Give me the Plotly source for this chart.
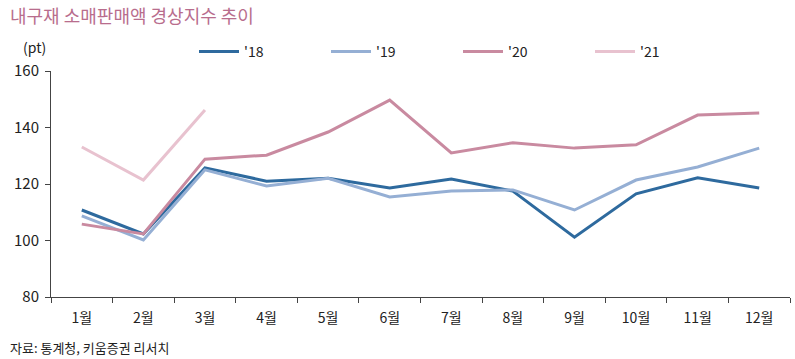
import plotly.graph_objects as go

months = ["1월", "2월", "3월", "4월", "5월", "6월", "7월", "8월", "9월", "10월", "11월", "12월"]
s18 = [110.8, 102.3, 125.7, 121.0, 122.0, 118.6, 121.8, 117.5, 101.2, 116.5, 122.2, 118.6]
s19 = [108.7, 100.2, 125.0, 119.3, 122.0, 115.4, 117.5, 117.9, 110.8, 121.4, 126.0, 132.7]
s20 = [105.8, 102.3, 128.8, 130.2, 138.4, 149.7, 131.0, 134.6, 132.7, 133.9, 144.4, 145.1]
s21 = [133.1, 121.4, 146.2]
names = ["'18", "'19", "'20", "'21"]
colors = ["#2e6a9e", "#95afd4", "#c98aa0", "#e8c2cf"]

FONT = "Noto Sans CJK KR"
fig = go.Figure()
for name, vals, col in zip(names, [s18, s19, s20, s21], colors):
    fig.add_trace(go.Scatter(x=months[:len(vals)], y=vals, mode="lines", name=name,
                             line=dict(color=col, width=3)))

fig.update_layout(
    width=795, height=359,
    margin=dict(l=51, r=5, t=71, b=62, autoexpand=False),
    plot_bgcolor="white", paper_bgcolor="white",
    font=dict(family=FONT, size=13, color="#222"),
    showlegend=True,
    legend=dict(orientation="h", x=(194 - 51) / 739, xref="paper", y=1 + 19 / 226, yanchor="middle",
                xanchor="left", entrywidth=77, entrywidthmode="pixels",
                font=dict(size=14, family=FONT, color="#222"),
                bgcolor="rgba(0,0,0,0)", itemwidth=40),
    xaxis=dict(categoryorder="array", categoryarray=months, type="category", automargin=False,
               showline=True, linecolor="#444", linewidth=1, ticks="outside", tickson="boundaries",
               ticklen=5, tickcolor="#444", showgrid=False, tickfont=dict(size=14, family=FONT),
               ticklabelstandoff=8, range=[-0.5, 11.5], zeroline=False),
    yaxis=dict(range=[80, 160], tickvals=[80, 100, 120, 140, 160], showline=True, linecolor="#444",
               linewidth=1, ticks="outside", ticklen=5, tickcolor="#444", showgrid=False, automargin=False,
               tickfont=dict(size=15, family=FONT), ticklabelstandoff=3, zeroline=False),
)
fig.add_annotation(text="내구재 소매판매액 경상지수 추이", xref="paper", yref="paper", x=-43/739, y=1+(71-15)/226,
                   xanchor="left", yanchor="middle", showarrow=False,
                   font=dict(size=18, color="#b86d8d", family=FONT))
fig.add_annotation(text="(pt)", xref="paper", yref="paper", x=-30/739, y=1+(71-47)/226,
                   xanchor="left", yanchor="middle", showarrow=False,
                   font=dict(size=14, color="#222", family=FONT))
fig.add_annotation(text="자료: 통계청, 키움증권 리서치", xref="paper", yref="paper", x=-43/739, y=-(347-297)/226,
                   xanchor="left", yanchor="middle", showarrow=False,
                   font=dict(size=13, color="#222", family=FONT))
fig.write_html("out.html", config={"displayModeBar": False},
               post_script="document.body.style.margin='0px';")
